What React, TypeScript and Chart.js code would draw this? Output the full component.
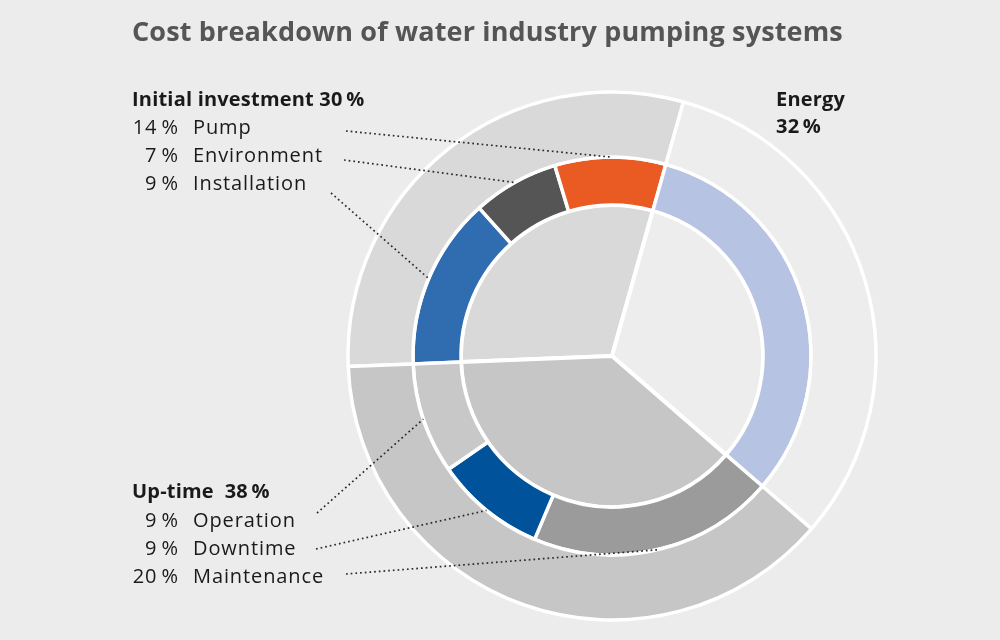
import React, { useEffect, useRef } from 'react';
import { Chart, registerables } from 'chart.js';

Chart.register(...registerables);

// ---------- data ----------
const groupLabels = ['Initial investment', 'Energy', 'Up-time'];
const groupValues = [30, 32, 38];
const groupColors = ['#d9d9d9', '#ededed', '#c6c6c6'];

const partLabels = ['Installation', 'Environment', 'Pump', 'Energy', 'Maintenance', 'Downtime', 'Operation'];
const partValues = [14, 7, 9, 32, 20, 9, 9];
const partColors = ['#2f6db0', '#555555', '#e95b23', '#b7c3e2', '#9c9b9b', '#00529b', '#c8c8c8'];

const titleText = 'Cost breakdown of water industry pumping systems';
const investHeading = 'Initial investment 30\u2009%';
const investPcts = ['14\u2009%', '7\u2009%', '9\u2009%'];
const investNames = ['Pump', 'Environment', 'Installation'];
const energyHeading = ['Energy', '32\u2009%'];
const uptimeHeading = 'Up-time  38\u2009%';
const uptimePcts = ['9\u2009%', '9\u2009%', '20\u2009%'];
const uptimeNames = ['Operation', 'Downtime', 'Maintenance'];

const BG = '#ececec';
const FONT = '"Open Sans", "Noto Sans", sans-serif';

const labelsPlugin = {
  id: 'labels',
  beforeDraw(chart: any) {
    const ctx = chart.ctx;
    ctx.save();
    ctx.fillStyle = BG;
    ctx.fillRect(0, 0, chart.width, chart.height);
    ctx.restore();
  },
  afterDraw(chart: any) {
    const ctx = chart.ctx as CanvasRenderingContext2D;
    const meta = chart.getDatasetMeta(1);
    const anchor = (name: string) => {
      const i = partLabels.indexOf(name);
      const a = meta.data[i].getProps(['x', 'y', 'startAngle', 'endAngle', 'outerRadius'], true);
      const m = (a.startAngle + a.endAngle) / 2;
      return [a.x + Math.cos(m) * a.outerRadius, a.y + Math.sin(m) * a.outerRadius];
    };
    ctx.save();
    ctx.textBaseline = 'alphabetic';
    // title
    (ctx as any).letterSpacing = '0.15px';
    ctx.fillStyle = '#555555';
    ctx.font = `700 27px ${FONT}`;
    ctx.textAlign = 'left';
    ctx.fillText(titleText, 132, 41);

    // dotted leaders
    ctx.strokeStyle = '#2a2a2a';
    ctx.lineWidth = 1.7;
    ctx.setLineDash([1.7, 3]);
    const lead = (x: number, y: number, name: string) => {
      const [ex, ey] = anchor(name);
      ctx.beginPath();
      ctx.moveTo(x, y);
      ctx.lineTo(ex, ey);
      ctx.stroke();
    };
    lead(346, 131, 'Pump');
    lead(344, 160, 'Environment');
    lead(331, 193, 'Installation');
    lead(317, 513, 'Operation');
    lead(316, 549, 'Downtime');
    lead(346, 574, 'Maintenance');
    ctx.setLineDash([]);

    ctx.fillStyle = '#1a1a1a';
    const bold = () => { ctx.font = `700 20px ${FONT}`; (ctx as any).letterSpacing = '0.2px'; };
    const reg = () => { ctx.font = `400 20px ${FONT}`; (ctx as any).letterSpacing = '0.9px'; };
    // initial investment block
    bold();
    ctx.textAlign = 'left';
    ctx.fillText(investHeading, 132, 106);
    reg();
    investPcts.forEach((p, i) => {
      ctx.textAlign = 'right';
      ctx.fillText(p, 179, 134 + i * 28);
      ctx.textAlign = 'left';
      ctx.fillText(investNames[i], 193, 134 + i * 28);
    });
    // energy
    bold();
    ctx.fillText(energyHeading[0], 776, 106);
    ctx.fillText(energyHeading[1], 776, 133);
    // uptime
    ctx.fillText(uptimeHeading, 132, 498);
    reg();
    uptimePcts.forEach((p, i) => {
      ctx.textAlign = 'right';
      ctx.fillText(p, 179, 527 + i * 28);
      ctx.textAlign = 'left';
      ctx.fillText(uptimeNames[i], 193, 527 + i * 28);
    });
    ctx.restore();
  },
};

export default function App() {
  const ref = useRef<HTMLCanvasElement | null>(null);
  useEffect(() => {
    if (!ref.current) return;
    const chart = new Chart(ref.current, {
      type: 'doughnut',
      data: {
        labels: partLabels,
        datasets: [
          { label: 'Groups', data: groupValues, backgroundColor: groupColors, borderColor: '#ffffff', borderWidth: 3.5, weight: 65 } as any,
          { label: 'Parts', data: partValues, backgroundColor: partColors, borderColor: '#ffffff', borderWidth: 3.5, weight: 48 } as any,
          { label: 'Groups inner', data: groupValues, backgroundColor: groupColors, borderColor: '#ffffff', borderWidth: 4, weight: 151 } as any,
        ],
      },
      options: {
        animation: false,
        responsive: false,
        rotation: -92.3,
        cutout: 0,
        radius: 264,
        layout: { padding: { left: 348, right: 124, top: 92, bottom: 20 } },
        plugins: { legend: { display: false }, tooltip: { enabled: false }, title: { display: false } },
        events: [],
      } as any,
      plugins: [labelsPlugin],
    });
    return () => chart.destroy();
  }, []);
  return (
    <div style={{ position: 'fixed', left: 0, top: 0, width: 1000, height: 640, background: BG }}>
      <canvas ref={ref} width={1000} height={640} style={{ width: 1000, height: 640, display: 'block' }} />
    </div>
  );
}
